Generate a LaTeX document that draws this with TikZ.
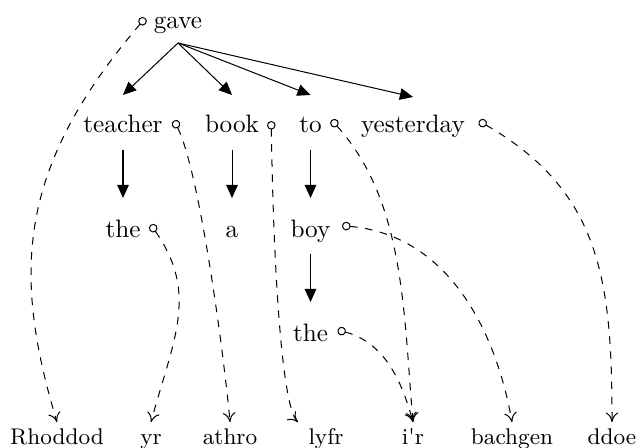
\documentclass[tikz,border=0pt]{standalone}
\usetikzlibrary{arrows.meta,calc}
\begin{document}
\begin{tikzpicture}[x=0.39683pt,y=0.39683pt,
  word/.style={anchor=base,inner sep=2pt,text height=1.5ex,text depth=.25ex},
  gloss/.style={word,font=\small},
  dep/.style={-{Triangle[length=5.2pt,width=4.6pt]}},
  link/.style={dashed,{Circle[open,length=3.4pt,width=3.4pt]}-{Computer Modern Rightarrow[length=3.8pt,width=5pt]}}]
\useasboundingbox (0,0) rectangle (636,-447);
% tree words
\node[word] (gave) at (178,-29) {gave};
\node[word] (teacher) at (123,-133) {teacher};
\node[word] (book) at (232,-133) {book};
\node[word] (to) at (310.5,-133) {to};
\node[word] (yesterday) at (413,-133) {yesterday};
\node[word] (the1) at (123,-237) {the};
\node[word] (a) at (232,-237) {a};
\node[word] (boy) at (310.5,-237) {boy};
\node[word] (the2) at (310.5,-341) {the};
% gloss words
\node[gloss] (Rhoddod) at (57,-444) {Rhoddod};
\node[gloss] (yr) at (151,-444) {yr};
\node[gloss] (athro) at (230,-444) {athro};
\node[gloss] (lyfr) at (326,-444) {lyfr};
\node[gloss] (ir) at (413,-444) {i\textquotesingle r};
\node[gloss] (bachgen) at (512,-444) {bachgen};
\node[gloss] (ddoe) at (612,-444) {ddoe};
% link start points
\coordinate (gave-o) at ($(gave.base west)+(-3,11)$);
\coordinate (teacher-o) at ($(teacher.base east)+(6,12.6)$);
\coordinate (book-o) at ($(book.base east)+(6.7,12)$);
\coordinate (to-o) at ($(to.base east)+(4.3,13)$);
\coordinate (yesterday-o) at ($(yesterday.base east)+(8.5,12)$);
\coordinate (the1-o) at ($(the1.base east)+(4.7,12.3)$);
\coordinate (boy-o) at ($(boy.base east)+(6,11.3)$);
\coordinate (the2-o) at ($(the2.base east)+(4,11)$);
\coordinate (lyfr-in) at ($(lyfr.north west)+(-5,0)$);
% tree arrows
\draw[dep] ($(gave.base)+(0,-14)$) -- ($(teacher.base)+(0,38)$);
\draw[dep] ($(gave.base)+(0,-14)$) -- ($(book.base)+(0,38)$);
\draw[dep] ($(gave.base)+(0,-14)$) -- ($(to.base)+(0,38)$);
\draw[dep] ($(gave.base)+(0,-14)$) -- ($(yesterday.base)+(0,36)$);
\draw[dep] ($(teacher.base)+(0,-17)$) -- ($(the1.base)+(0,39)$);
\draw[dep] ($(book.base)+(0,-17)$) -- ($(a.base)+(0,39)$);
\draw[dep] ($(to.base)+(0,-17)$) -- ($(boy.base)+(0,39)$);
\draw[dep] ($(boy.base)+(0,-17)$) -- ($(the2.base)+(0,39)$);
% alignment links
\draw[link] (gave-o) .. controls ($(gave-o)+(-128,-150)$) and ($(Rhoddod.north)+(-45,150)$) .. (Rhoddod.north);
\draw[link] (teacher-o) to[out=-64,in=95,looseness=0.5] (athro.north);
\draw[link] (book-o) .. controls ($(book-o)+(2,-135)$) and ($(lyfr-in)+(-17,17)$) .. (lyfr-in);
\draw[link] (to-o) to[out=-48,in=95,looseness=0.9] (ir.north);
\draw[link] (yesterday-o) to[out=-30,in=90,looseness=1.1] (ddoe.north);
\draw[link] (the1-o) to[out=-55,in=75,looseness=1.1] (yr.north);
\draw[link] (boy-o) to[out=-5,in=100] (bachgen.north);
\draw[link] (the2-o) to[out=-15,in=105] (ir.north);
\end{tikzpicture}
\end{document}
